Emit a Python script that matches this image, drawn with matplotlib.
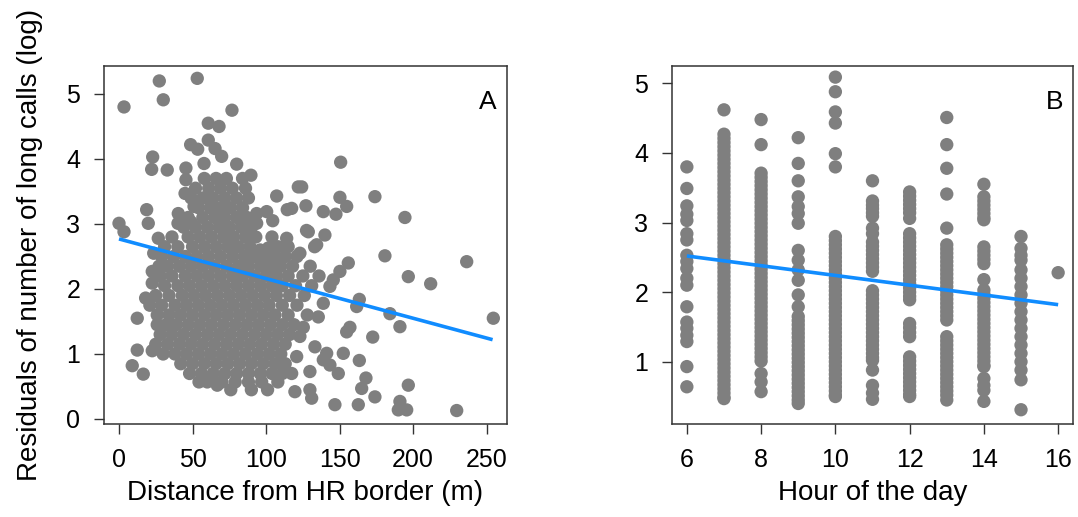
import matplotlib
matplotlib.use("Agg")
import matplotlib.pyplot as plt

plt.rcParams['font.family'] = ['Liberation Sans', 'DejaVu Sans']

# ---------------- Panel A data (distance vs residuals) ----------------
a_sparse_x = [3.4, 27.4, 53.2, 30.1, 76.8, 60.7, 68.0, 48.7, 53.5, 60.7,
              65.3, 69.8, 22.9, 22.2, 32.8, 45.5, 45.5, 44.9, 57.8, 80.0,
              89.7, 121.9, 107.2, 114.4, 18.8, 19.9, 0.0, 3.4, 114.0, 93.6,
              100.4, 104.5, 93.6, 40.3, 26.7, 150.7, 124.2, 174.0, 150.2, 154.8,
              127.1, 138.9, 147.5, 194.4, 128.7, 140.0, 134.4, 123.0, 180.8, 236.4,
              117.4, 196.7, 211.9, 155.9, 150.2, 145.7, 143.4, 163.4, 161.6, 184.2,
              191.0, 254.5, 157.0, 154.8, 172.5, 138.9, 135.5, 125.3, 123.0, 152.5,
              163.4, 133.2, 141.2, 138.9, 143.4, 149.1, 129.8, 167.9, 165.0, 174.0,
              196.7, 191.0, 195.6, 189.9, 146.8, 162.7, 229.6, 129.8, 131.0, 119.6,
              117.4, 120.8, 12.4, 9.0, 16.5, 12.4, 22.6, 18.1, 22.6, 26.0,
              54.4, 66.8, 127.5, 133.0, 96.0, 101.5, 121.0, 49.0, 40.1, 51.0,
              22.6, 27.2, 23.6]
a_sparse_y = [4.80, 5.20, 5.24, 4.91, 4.75, 4.55, 4.50, 4.22, 4.15, 4.29,
              4.16, 4.04, 4.03, 3.84, 3.83, 3.86, 3.68, 3.47, 3.93, 3.92,
              3.75, 3.57, 3.43, 3.22, 3.22, 3.01, 3.01, 2.88, 2.78, 3.16,
              3.19, 3.05, 3.01, 3.16, 2.78, 3.95, 3.57, 3.42, 3.41, 3.27,
              3.28, 3.19, 3.15, 3.10, 2.88, 2.83, 2.68, 2.55, 2.51, 2.42,
              3.24, 2.19, 2.08, 2.40, 2.27, 2.14, 2.04, 1.84, 1.73, 1.62,
              1.42, 1.55, 1.41, 1.34, 1.26, 1.78, 1.57, 1.41, 1.27, 1.01,
              0.90, 1.11, 1.01, 0.91, 0.83, 0.70, 0.73, 0.63, 0.47, 0.34,
              0.52, 0.27, 0.14, 0.14, 0.22, 0.22, 0.13, 0.45, 0.32, 0.42,
              0.70, 0.96, 1.55, 0.82, 0.69, 1.06, 1.05, 1.86, 2.09, 1.45,
              0.57, 0.52, 2.90, 2.65, 2.60, 2.63, 2.50, 3.03, 3.01, 3.27,
              2.27, 2.35, 2.55]

# dense core of panel A: one residual level per row, distances read along it
a_dense_levels = [3.70, 3.55, 3.40, 3.25, 3.10, 2.95, 2.80, 2.65, 2.50, 2.35,
                  2.20, 2.05, 1.90, 1.75, 1.60, 1.45, 1.30, 1.15, 1.00, 0.85,
                  0.70, 0.57, 0.45]
a_dense_dists = [
    [58, 66, 73, 84],
    [52, 61, 69, 77, 86],
    [49, 57, 64, 72, 80, 88],
    [54, 62, 69, 76, 84],
    [47, 57, 65, 72, 80, 87],
    [44, 52, 60, 68, 75, 83, 90],
    [36, 47, 55, 63, 71, 78, 86, 93, 104],
    [31, 40, 50, 58, 66, 74, 81, 89, 108, 115],
    [29, 37, 45, 53, 61, 69, 77, 85, 92, 99, 106, 113],
    [33, 41, 49, 57, 65, 73, 81, 88, 96, 103, 110, 118, 130],
    [28, 36, 45, 53, 61, 69, 77, 84, 92, 100, 107, 115, 125, 136],
    [31, 40, 48, 56, 64, 72, 80, 88, 96, 104, 111, 120, 131],
    [25, 34, 43, 51, 59, 67, 75, 83, 91, 99, 107, 116, 126],
    [21, 29, 38, 46, 54, 62, 70, 78, 86, 94, 102, 111, 121],
    [26, 34, 42, 50, 58, 66, 74, 82, 90, 98, 106, 115, 128],
    [32, 39, 47, 55, 63, 71, 79, 87, 95, 103, 111, 119],
    [28, 36, 44, 52, 60, 68, 76, 84, 92, 100, 108, 116],
    [25, 33, 41, 49, 57, 65, 73, 81, 89, 97, 105, 113],
    [30, 38, 46, 54, 62, 70, 78, 86, 94, 102, 110],
    [42, 50, 58, 66, 74, 82, 90, 98, 106, 113],
    [48, 56, 64, 72, 80, 88, 96, 104, 111],
    [60, 70, 79, 88, 97, 108],
    [76, 90, 101],
]

a_line_x = [0.0, 254.0]
a_line_y = [2.77, 1.22]

# ---------------- Panel B data (hour vs residuals) ----------------
b_hours = [6, 7, 8, 9, 10, 11, 12, 13, 14, 15, 16]
b_resid = [
    # 6
    [3.80, 3.49, 3.24, 3.12, 3.03, 2.84, 2.75, 2.53, 2.44, 2.34, 2.20, 2.10,
     1.79, 1.57, 1.48, 1.38, 1.29, 0.93, 0.64],
    # 7
    [4.62, 4.27, 4.21, 4.15, 4.09, 4.03, 3.97, 3.91, 3.85, 3.79, 3.73, 3.67,
     3.61, 3.55, 3.49, 3.43, 3.37, 3.31, 3.25, 3.19, 3.13, 3.07, 3.01, 2.95,
     2.89, 2.83, 2.77, 2.71, 2.65, 2.59, 2.53, 2.47, 2.41, 2.35, 2.29, 2.23,
     2.17, 2.11, 2.05, 1.99, 1.93, 1.87, 1.81, 1.75, 1.69, 1.63, 1.57, 1.51,
     1.45, 1.39, 1.33, 1.27, 1.21, 1.15, 1.09, 1.03, 0.97, 0.91, 0.85, 0.79,
     0.73, 0.67, 0.61, 0.55, 0.49, 0.47],
    # 8
    [4.48, 4.12, 3.71, 3.65, 3.59, 3.53, 3.47, 3.41, 3.35, 3.29, 3.23, 3.17,
     3.11, 3.05, 2.99, 2.93, 2.87, 2.81, 2.75, 2.69, 2.63, 2.57, 2.51, 2.45,
     2.39, 2.33, 2.27, 2.21, 2.15, 2.09, 2.03, 1.97, 1.91, 1.85, 1.79, 1.73,
     1.67, 1.61, 1.55, 1.49, 1.43, 1.37, 1.31, 1.25, 1.19, 1.13, 1.07, 1.01,
     0.83, 0.71, 0.57],
    # 9
    [4.22, 3.85, 3.60, 3.37, 3.23, 3.13, 2.99, 2.60, 2.46, 2.32, 2.17, 1.96,
     1.79, 1.65, 1.59, 1.53, 1.47, 1.41, 1.35, 1.29, 1.23, 1.17, 1.11, 1.05,
     0.99, 0.93, 0.87, 0.81, 0.75, 0.69, 0.63, 0.57, 0.51, 0.45, 0.40],
    # 10
    [5.09, 4.88, 4.59, 4.43, 3.99, 3.80, 2.80, 2.74, 2.68, 2.62, 2.56, 2.50,
     2.44, 2.38, 2.32, 2.26, 2.20, 2.14, 2.08, 2.02, 1.96, 1.90, 1.84, 1.78,
     1.72, 1.66, 1.60, 1.54, 1.48, 1.42, 1.36, 1.30, 1.24, 1.18, 1.12, 1.06,
     1.00, 0.94, 0.88, 0.82, 0.76, 0.70, 0.64, 0.58, 0.52, 0.50],
    # 11
    [3.60, 3.31, 3.25, 3.20, 3.14, 3.09, 2.92, 2.84, 2.72, 2.66, 2.60, 2.54,
     2.48, 2.42, 2.36, 2.30, 2.02, 1.96, 1.90, 1.84, 1.78, 1.72, 1.66, 1.60,
     1.54, 1.48, 1.42, 1.36, 1.30, 1.24, 1.18, 1.12, 1.06, 1.02, 0.88, 0.66,
     0.55, 0.46],
    # 12
    [3.44, 3.38, 3.32, 3.26, 3.20, 3.14, 3.06, 2.84, 2.78, 2.72, 2.66, 2.60,
     2.54, 2.48, 2.42, 2.36, 2.30, 2.24, 2.18, 2.12, 2.06, 2.00, 1.94, 1.89,
     1.55, 1.49, 1.42, 1.36, 1.07, 1.01, 0.95, 0.89, 0.83, 0.77, 0.71, 0.65,
     0.59, 0.53, 0.50],
    # 13
    [4.51, 4.12, 3.78, 3.41, 2.92, 2.68, 2.62, 2.56, 2.50, 2.44, 2.38, 2.32,
     2.26, 2.20, 2.14, 2.08, 2.02, 1.96, 1.90, 1.84, 1.78, 1.72, 1.66, 1.60,
     1.36, 1.30, 1.24, 1.18, 1.12, 1.06, 1.00, 0.94, 0.88, 0.82, 0.76, 0.70,
     0.64, 0.58, 0.52, 0.45],
    # 14
    [3.55, 3.37, 3.31, 3.25, 3.19, 3.13, 3.07, 3.04, 2.65, 2.59, 2.53, 2.47,
     2.41, 2.18, 2.03, 1.97, 1.91, 1.85, 1.79, 1.73, 1.67, 1.61, 1.55, 1.49,
     1.43, 1.37, 1.31, 1.25, 1.19, 1.13, 1.07, 1.01, 0.95, 0.93, 0.76, 0.66,
     0.59, 0.43],
    # 15
    [2.80, 2.63, 2.53, 2.46, 2.32, 2.20, 2.08, 1.96, 1.84, 1.72, 1.60, 1.48,
     1.36, 1.24, 1.12, 1.00, 0.88, 0.74, 0.31],
    # 16
    [2.28],
]
b_line_x = [6, 16]
b_line_y = [2.52, 1.82]

# ---------------- Figure ----------------
W, H = 1078, 517
fig = plt.figure(figsize=(W / 100, H / 100), dpi=100)

PT_COLOR = '#7f7f7f'
LINE_COLOR = '#108cff'
BOX_COLOR = '#333333'
MS = 92
FS = 18
LFS = 20


def style(ax):
    for s in ax.spines.values():
        s.set_color(BOX_COLOR)
        s.set_linewidth(1.1)
    ax.tick_params(direction='out', length=7, width=1.0, color=BOX_COLOR,
                   labelsize=FS, pad=10)


# Panel A
axA = fig.add_axes([104 / W, 1 - 424 / H, 403 / W, 358 / H])
ax_x = list(a_sparse_x)
ax_y = list(a_sparse_y)
for lvl, row in zip(a_dense_levels, a_dense_dists):
    ax_x += row
    ax_y += [lvl] * len(row)
axA.scatter(ax_x, ax_y, s=MS, color=PT_COLOR, edgecolors='none', zorder=2)
axA.plot(a_line_x, a_line_y, color=LINE_COLOR, lw=2.6, zorder=3,
         solid_capstyle='butt')
axA.set_xlim(-10.2, 263.8)
axA.set_ylim(-0.077, 5.43)
axA.set_xticks([0, 50, 100, 150, 200, 250])
axA.set_yticks([0, 1, 2, 3, 4, 5])
style(axA)
axA.set_xlabel('Distance from HR border (m)', fontsize=LFS, labelpad=6)
axA.set_ylabel('Residuals of number of long calls (log)', fontsize=LFS,
               labelpad=17)
axA.text(0.975, 0.9, 'A', transform=axA.transAxes, fontsize=19,
         ha='right', va='center')

# Panel B
axB = fig.add_axes([672 / W, 1 - 424 / H, 401 / W, 358 / H])
for h, vals in zip(b_hours, b_resid):
    axB.scatter([h] * len(vals), vals, s=MS, color=PT_COLOR,
                edgecolors='none', zorder=2)
axB.plot(b_line_x, b_line_y, color=LINE_COLOR, lw=2.6, zorder=3,
         solid_capstyle='butt')
axB.set_xlim(5.6, 16.4)
axB.set_ylim(0.105, 5.25)
axB.set_xticks([6, 8, 10, 12, 14, 16])
axB.set_yticks([1, 2, 3, 4, 5])
style(axB)
axB.set_xlabel('Hour of the day', fontsize=LFS, labelpad=6)
axB.text(0.975, 0.9, 'B', transform=axB.transAxes, fontsize=19,
         ha='right', va='center')

fig.savefig('out.png', dpi=100)
